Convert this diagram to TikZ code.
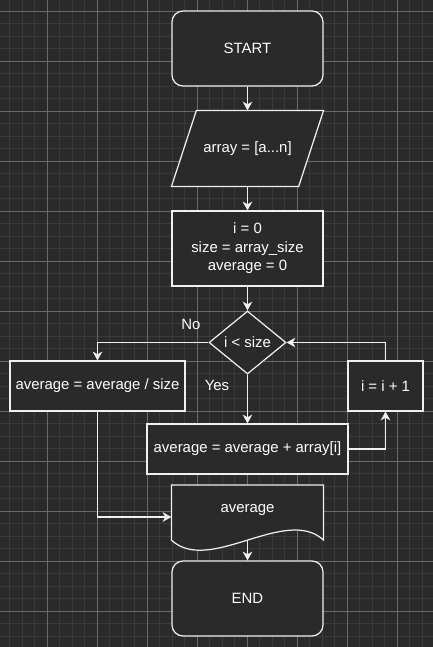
\documentclass[tikz,border=0pt]{standalone}
\usepackage{fontspec}
\setmainfont{Liberation Sans}
\usetikzlibrary{shapes.geometric,arrows.meta,backgrounds}
\definecolor{canvas}{HTML}{2A2A2A}
\definecolor{gridminor}{HTML}{3A3A3A}
\definecolor{gridmajor}{HTML}{6A6A6A}
\definecolor{ink}{HTML}{F0F0F0}
\tikzstyle{box}=[rectangle, fill=canvas, draw=ink, line width=0.7pt, text=white, align=center, inner sep=0pt, anchor=center]
\tikzstyle{term}=[box, rounded corners=0.22cm, minimum width=3.02cm, minimum height=1.5cm]
\tikzstyle{bare}=[box, draw=none, fill=none]
\tikzstyle{decision}=[box, diamond, minimum width=1.54cm, minimum height=1.26cm]
\tikzstyle{outline}=[fill=canvas, draw=ink, line width=0.7pt]
\tikzstyle{flow}=[draw=ink, line width=0.7pt, -{Stealth[length=5pt,width=5.5pt,inset=1.5pt]}]
\tikzstyle{annot}=[text=white, align=center]
\newcommand{\drawgrid}[0]
{
  \fill[canvas] (0,0) rectangle (433,647);
  \foreach \k in {-3,...,30}
    \draw[gridminor, line width=0.4pt] ({47+12.5*\k},0) -- ({47+12.5*\k},647);
  \foreach \k in {-1,...,50}
    \draw[gridminor, line width=0.4pt] (0,{11+12.5*\k}) -- (433,{11+12.5*\k});
  \foreach \k in {0,...,7}
    \draw[gridmajor, line width=0.5pt] ({47+50*\k},0) -- ({47+50*\k},647);
  \foreach \k in {0,...,12}
    \draw[gridmajor, line width=0.5pt] (0,{11+50*\k}) -- (433,{11+50*\k});
}

\begin{document}
\begin{tikzpicture}[x=0.02cm, y=-0.02cm, font=\fontsize{8.5}{10.5}\selectfont]
	\useasboundingbox (0,0) rectangle (433,647);
	\begin{scope}[on background layer]
		\drawgrid{}
	\end{scope}

	\node[term](start) at (247.5,48.5) {START};
	\node[bare, minimum width=3.02cm, minimum height=1.5cm](arr) at (247.5,148.5) {array = [a...n]};
	\node[box, minimum width=3.02cm, minimum height=1.5cm](init) at (247.5,248.5) {i = 0\\size = array\_size\\average = 0};
	\node[decision](cond) at (247.5,342.5) {i \textless{} size};
	\node[box, minimum width=3.5cm, minimum height=1cm](divide) at (97.5,386) {average = average / size};
	\node[box, minimum width=4.02cm, minimum height=1cm](add) at (247.5,449) {average = average + array[i]};
	\node[box, minimum width=1.5cm, minimum height=1cm](incr) at (385.5,386) {i = i + 1};
	\node[bare, minimum width=3.02cm, minimum height=0.98cm](out) at (247.5,510) {average};
	\node[term](end) at (247.5,598.5) {END};

	% parallelogram and document shapes, under the text
	\begin{scope}[on background layer]
		\filldraw[outline] ([xshift=0.5cm]arr.north west) -- (arr.north east) -- ([xshift=-0.5cm]arr.south east) -- (arr.south west) -- cycle;
		\filldraw[outline] (out.north west) -- (out.north east) -- ([yshift=-0.1cm]out.south east)
			.. controls +(-38,-35) and +(38,35) .. ([yshift=-0.1cm]out.south west) -- cycle;
	\end{scope}

	\node[annot] at (191,324) {No};
	\node[annot] at (217,385) {Yes};

	\draw[flow] (start) -- (arr);
	\draw[flow] (arr) -- (init);
	\draw[flow] (init) -- (cond);
	\draw[flow] (cond.west) -| (divide.north);
	\draw[flow] (cond.south) -- (add.north);
	\draw[flow] (add.east) -| (incr.south);
	\draw[flow] (incr.north) |- (cond.east);
	\draw[flow] (divide.south) |- ([yshift=-0.14cm]out.west);
	\draw[flow] ([yshift=-0.1cm]out.south) -- (end);

\end{tikzpicture}
\end{document}
